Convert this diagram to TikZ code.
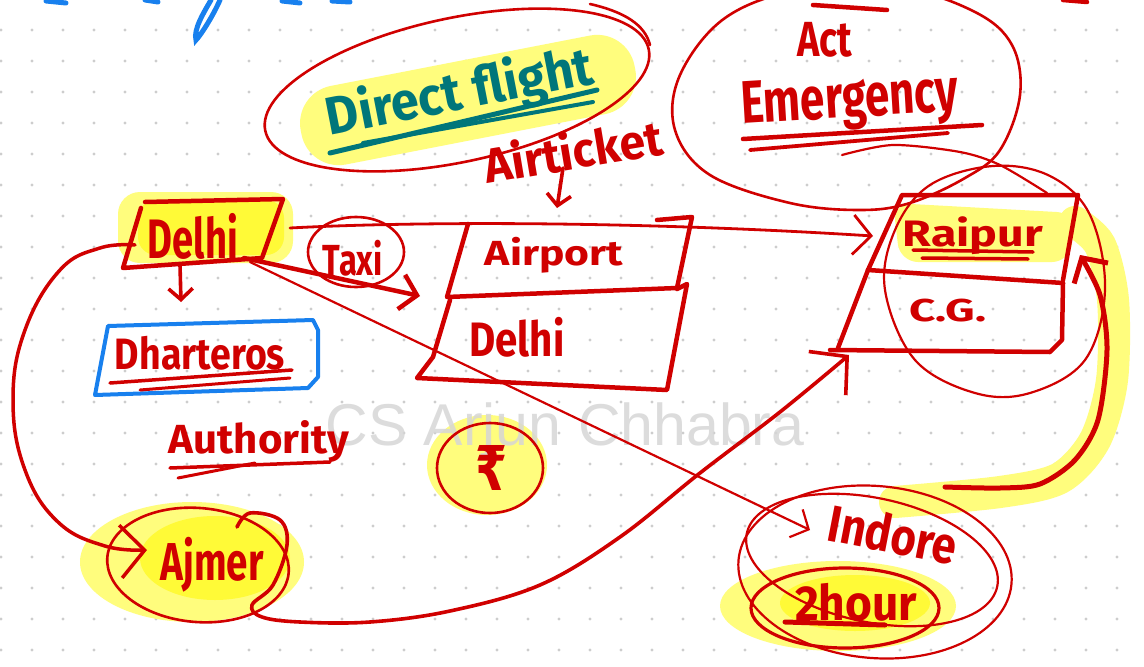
\documentclass[tikz,border=0pt]{standalone}
\usepackage{fontspec}
\usepackage{graphicx}
\setmainfont{Fira Sans}
\newfontfamily\markfont{Fira Sans}
\newfontfamily\wmfont{Liberation Sans}
\newfontfamily\symfont{DejaVu Sans}
\usetikzlibrary{arrows.meta}
\definecolor{ink}{RGB}{208,0,0}
\definecolor{teal0}{RGB}{0,118,122}
\definecolor{blue0}{RGB}{24,128,238}
\definecolor{hl}{RGB}{255,253,125}
\definecolor{hlstrong}{RGB}{255,250,55}
\definecolor{gridc}{RGB}{205,205,205}
\definecolor{wm}{RGB}{214,214,214}
% a word stretched to a given width and total height (in pt)
\newcommand\fitword[3]{\resizebox*{#1pt}{#2pt}{\markfont\bfseries #3}}

\begin{document}
\begin{tikzpicture}[x=1pt,y=-1pt,
  pen/.style={draw=ink, line width=4.5pt, line cap=round, line join=round},
  ring/.style={draw=ink, line width=2.6pt, line cap=round, line join=round},
  hair/.style={draw=ink, line width=2.2pt, line cap=round, line join=round},
  word/.style={text=ink, inner sep=0pt},
  barb/.style={-{Straight Barb[length=#1, width=2.2*#1]}},
]
\useasboundingbox (0,0) rectangle (1144,667);
\fill[white] (0,0) rectangle (1144,667);

% dotted paper
\foreach \i in {0,...,36}{
  \foreach \j in {1,...,21}{
    \fill[gridc] (1+31*\i,-1+31*\j) circle[radius=1.7pt];
  }
}

% highlighter marks
\fill[hl, rotate around={11:(468,100)}, rounded corners=38pt] (298,60) rectangle (638,140);
\fill[hl, rounded corners=22pt] (118,192) rectangle (293,263);
\fill[hlstrong, rounded corners=18pt] (138,200) rectangle (284,255);
\fill[hl, rounded corners=18pt] (893,203) -- (1075,213) -- (1070,262) -- (900,262) -- cycle;
\draw[hl, line width=32pt, line cap=round] plot[smooth] coordinates {(1075,222) (1100,245) (1113,300) (1112,380) (1095,440) (1060,478) (1000,492) (895,502)};
\fill[hl] (487,465) ellipse[x radius=60pt, y radius=50pt];
\fill[hl] (192,562) ellipse[x radius=112pt, y radius=60pt];
\fill[hlstrong] (215,558) ellipse[x radius=75pt, y radius=42pt];
\fill[hl] (838,606) ellipse[x radius=118pt, y radius=45pt];
\fill[hlstrong] (855,603) ellipse[x radius=75pt, y radius=28pt];

% watermark
\node[anchor=base, text=wm, font=\wmfont\fontsize{59}{60}\selectfont, inner sep=0pt, opacity=0.85] (mark) at (565,445) {CS Arjun Chhabra};

% strokes cut by the top edge
\draw[blue0, line width=5pt, line cap=round] (220,0) .. controls (212,18) and (200,36) .. (196,40) .. controls (193,30) and (204,12) .. (211,0);
\draw[blue0, line width=5pt, line cap=round] (46,1) -- (66,3);
\draw[blue0, line width=5pt, line cap=round] (145,0) -- (158,2);
\draw[blue0, line width=5pt, line cap=round] (282,1) -- (300,3);
\draw[blue0, line width=5pt, line cap=round] (332,1) -- (350,2);
\draw[pen] (813,5) -- (887,10);
\draw[pen] (1063,0) -- (1087,2);

% ---- named anchor points on the sketched boxes ----
\coordinate (dR) at (290,228);
\coordinate (dBR) at (244,258);
\coordinate (dBR2) at (250,262);
\coordinate (dL) at (135,245);
\coordinate (dB) at (180,265);
\coordinate (chT) at (181,302);
\coordinate (apL) at (420,296);
\coordinate (rpL) at (873,236);
\coordinate (inA) at (810,530);
\coordinate (ajA) at (147,550);
\coordinate (ajHook) at (237,527);
\coordinate (rpB) at (849,355);
\coordinate (inR) at (945,487);
\coordinate (rpR) at (1080,255);
\coordinate (tkB) at (563,168);
\coordinate (apT) at (557,208);

% ---- loops ----
\draw[ring, rotate around={12:(457,90)}] (457,90) ellipse[x radius=196pt, y radius=72pt];
\draw[ring] (590,4) .. controls (625,12) and (645,25) .. (650,45);
\draw[ring] plot[smooth cycle, tension=0.6] coordinates {(910,203) (965,178) (1000,150) (1020,95) (1012,45) (975,12) (900,-12) (800,-10) (725,18) (680,75) (675,130) (710,175) (790,203) (860,210)};
\draw[hair] plot[smooth] coordinates {(842,155) (893,145) (960,152) (1000,165) (1047,193)};
\draw[hair] plot[smooth cycle, tension=0.6] coordinates {(993,166) (1050,176) (1090,215) (1105,290) (1085,360) (1030,393) (975,393) (915,360) (885,290) (895,230) (930,185)};
\draw[ring] (356,252) ellipse[x radius=48pt, y radius=35pt];
\draw[ring] (490,468) ellipse[x radius=53pt, y radius=45pt];
\draw[ring, rotate around={-5:(198,565)}] (198,565) ellipse[x radius=91pt, y radius=57pt];
\draw[hair, rotate around={-5:(875,572)}] (875,572) ellipse[x radius=137pt, y radius=86pt];
\draw[hair, rotate around={-12:(872,560)}] (872,560) ellipse[x radius=128pt, y radius=62pt];
\draw[ring, line width=3.2pt] (845,608) ellipse[x radius=94pt, y radius=40pt];

% ---- boxes ----
\draw[pen] (145,202) -- (283,199) -- (262,258) -- (123,268) -- (141,208);
\draw[blue0, line width=4pt, line cap=round, line join=round] (108,326) -- (313,320) -- (318,330) -- (318,377) -- (308,388) -- (95,395) -- cycle;
\draw[pen] (468,224) -- (447,297) -- (677,288) -- (692,217) -- (657,220);
\draw[pen] (450,300) -- (433,357) -- (417,378) -- (667,390) -- (687,284) -- (677,289);
\draw[pen] (868,270) -- (902,195) -- (1078,195) -- (1063,280);
\draw[pen] (868,270) -- (1063,283);
\draw[pen] (868,270) -- (838,348);
\draw[pen] (830,350) -- (1050,352) -- (1062,340) -- (1063,283);

% ---- connectors ----
\draw[hair, line width=2.8pt, barb=18pt] (dR) .. controls (400,222) and (620,220) .. (rpL);
\draw[pen, barb=16pt] (dBR) -- (apL);
\draw[hair, barb=14pt] (dBR2) -- (inA);
\draw[pen, line width=3.6pt, barb=11pt] (dB) -- (chT);
\draw[pen, line width=3.6pt, barb=11pt] (tkB) -- (apT);
\draw[pen, line width=3.5pt, barb=24pt] plot[smooth, tension=0.7] coordinates {(dL) (100,248) (60,270) (25,330) (13,400) (25,470) (58,522) (105,546) (ajA)};
\draw[pen, line width=3.6pt, barb=26pt] plot[smooth, tension=0.6] coordinates {(ajHook) (250,513) (280,520) (287,545) (273,585) (252,605) (262,617) (300,622) (370,622) (450,611) (540,585) (620,537) (700,473) (780,412) (rpB)};
\draw[pen, line width=5pt, barb=18pt] plot[smooth] coordinates {(inR) (1000,488) (1040,484) (1075,460) (1098,420) (1107,350) (1100,295) (rpR)};

% ---- underlines ----
\draw[teal0, line width=5pt, line cap=round] (330,153) -- (597,90);
\draw[teal0, line width=4pt, line cap=round] (363,143) -- (593,102);
\draw[pen] (743,139) -- (982,125);
\draw[pen, line width=3.8pt] (750,150) -- (948,133);
\draw[pen, line width=3.5pt] (913,250) -- (1033,252);
\draw[pen, line width=3.5pt] (922,258) -- (1028,259);
\draw[pen, line width=3.5pt] (110,383) -- (292,370);
\draw[pen, line width=3pt] (140,390) -- (290,378);
\draw[pen, line width=3.5pt] (170,468) -- (330,462);
\draw[pen, line width=3pt] (178,478) -- (255,463);
\draw[pen, line width=5pt] (785,622) -- (885,625);

% ---- words ----
\node[word, text=teal0, rotate=11] (direct) at (460,94) {\fitword{271}{55}{Direct flight}};
\node[word, rotate=9.5] (ticket) at (573,150) {\fitword{180}{40}{Airticket}};
\node[word] (act) at (825,40) {\fitword{55}{35}{Act}};
\node[word, rotate=3.5] (emerg) at (850,103) {\fitword{218}{55}{Emergency}};
\node[word] (delhi) at (193,236) {\fitword{90}{46}{Delhi}};
\node[word] (taxi) at (353,258) {\fitword{60}{36}{Taxi}};
\node[word] (airport) at (554,255) {\fitword{138}{36}{Airport}};
\node[word] (delhi2) at (517,337) {\fitword{95}{40}{Delhi}};
\node[word] (charter) at (200,353) {\fitword{170}{34}{Dharteros}};
\node[word] (auth) at (259,442) {\fitword{180}{42}{Authority}};
\node[word] (rupee) at (491,468) {\resizebox*{32pt}{45pt}{\symfont\bfseries ₹}};
\node[word] (ajmer) at (212,565) {\fitword{103}{55}{Ajmer}};
\node[word] (raipur) at (973,236) {\fitword{140}{38}{Raipur}};
\node[word] (cg) at (948,311) {\fitword{77}{23}{C.G.}};
\node[word, rotate=-11] (indore) at (893,534) {\fitword{130}{40}{Indore}};
\node[word] (hours) at (856,602) {\fitword{122}{38}{2hour}};
\end{tikzpicture}
\end{document}
